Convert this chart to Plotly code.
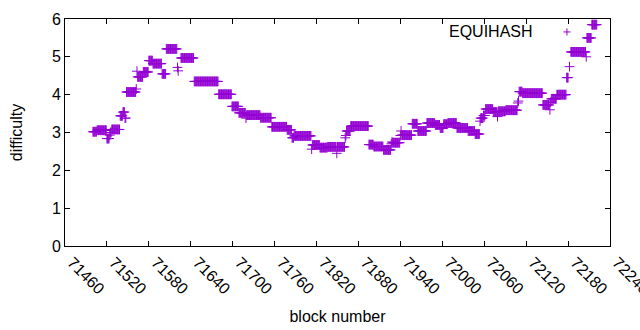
import plotly.graph_objects as go

# Difficulty plateaus: (first block, last block, difficulty)
seg_first = [71500, 71506, 71520, 71524, 71525, 71527, 71539, 71543, 71546, 71548,
             71562, 71563, 71564, 71572, 71580, 71586, 71599, 71605, 71621, 71622,
             71626, 71645, 71680, 71699, 71709, 71719, 71720, 71740, 71756, 71778,
             71785, 71788, 71813, 71814, 71825, 71836, 71849, 71850, 71861, 71862,
             71863, 71869, 71895, 71902, 71916, 71927, 71928, 71929, 71940, 71941,
             71942, 71957, 71965, 71978, 71990, 71997, 72002, 72008, 72021, 72037,
             72047, 72054, 72055, 72059, 72062, 72073, 72079, 72080, 72091, 72108,
             72109, 72110, 72115, 72144, 72154, 72155, 72156, 72164, 72178, 72182,
             72184, 72206, 72207, 72214]
seg_last = [71505, 71519, 71523, 71524, 71526, 71538, 71542, 71545, 71547, 71561,
            71562, 71563, 71571, 71579, 71585, 71598, 71604, 71620, 71621, 71622,
            71644, 71679, 71698, 71708, 71718, 71719, 71739, 71755, 71777, 71784,
            71787, 71812, 71813, 71824, 71835, 71848, 71849, 71860, 71861, 71862,
            71868, 71894, 71901, 71915, 71926, 71927, 71928, 71939, 71940, 71941,
            71956, 71964, 71977, 71989, 71996, 72001, 72007, 72020, 72036, 72046,
            72053, 72054, 72058, 72061, 72072, 72078, 72079, 72090, 72107, 72108,
            72109, 72114, 72143, 72153, 72154, 72155, 72163, 72177, 72180, 72182,
            72205, 72206, 72213, 72221]
seg_value = [3.02, 3.06, 2.84, 2.93, 3.00, 3.08, 3.44, 3.54, 3.38, 4.07,
             4.15, 4.62, 4.47, 4.60, 4.90, 4.82, 4.55, 5.21, 4.72, 4.63,
             4.97, 4.35, 4.01, 3.69, 3.52, 3.38, 3.46, 3.39, 3.15, 3.07,
             2.86, 2.91, 2.56, 2.67, 2.60, 2.62, 2.45, 2.62, 2.86, 2.92,
             3.04, 3.17, 2.68, 2.63, 2.54, 2.70, 2.75, 2.73, 2.92, 3.04,
             2.93, 3.23, 3.04, 3.25, 3.20, 3.12, 3.22, 3.25, 3.12, 3.04,
             2.96, 3.30, 3.38, 3.45, 3.62, 3.54, 3.42, 3.56, 3.59, 3.78,
             3.83, 4.08, 4.04, 3.73, 3.60, 3.80, 3.89, 4.00, 4.45, 4.74,
             5.13, 5.00, 5.50, 5.85]

x_range = [71460, 72240]
x_dtick = 60
y_range = [0, 6]
series_name = "EQUIHASH"

blocks, difficulty = [], []
for a, b, v in zip(seg_first, seg_last, seg_value):
    for n in range(a, b + 1):
        blocks.append(n)
        difficulty.append(v)

COLOR = "#9400D3"
FONT = "Liberation Sans"
FS = 16

fig = go.Figure()
fig.add_trace(go.Scatter(
    x=blocks, y=difficulty, mode="markers", name=series_name, showlegend=False,
    hoverinfo="skip",
    marker=dict(symbol="cross-thin", size=7, line=dict(color=COLOR, width=1)),
))

axis_common = dict(showline=True, linecolor="black", linewidth=1, mirror="ticks",
                   ticks="inside", ticklen=5, tickcolor="black", showgrid=False,
                   zeroline=False, automargin=False, ticklabeloverflow="allow",
                   tickfont=dict(family=FONT, size=FS, color="black"))

fig.update_xaxes(range=x_range, dtick=x_dtick, tick0=x_range[0], tickangle=45,
                 tickformat="d", ticklabelshift=7,
                 title=dict(text="block number", font=dict(family=FONT, size=FS, color="black"), standoff=14),
                 **axis_common)
fig.update_yaxes(range=y_range, dtick=1,
                 title=dict(text="difficulty", font=dict(family=FONT, size=FS, color="black"), standoff=25),
                 **axis_common)

# key (gnuplot style: text then sample to the right)
kx, ky = 0.921, 0.943
fig.add_annotation(x=0.862, y=ky, xref="paper", yref="paper", text=series_name,
                   showarrow=False, xanchor="right", yanchor="middle",
                   font=dict(family=FONT, size=FS, color="black"))
fig.add_shape(type="line", xref="paper", yref="paper", x0=kx - 0.0065, x1=kx + 0.0065, y0=ky, y1=ky,
              line=dict(color=COLOR, width=1))
fig.add_shape(type="line", xref="paper", yref="paper", x0=kx, x1=kx, y0=ky - 0.0155, y1=ky + 0.0155,
              line=dict(color=COLOR, width=1))

fig.update_layout(width=640, height=330, margin=dict(l=65, r=30, t=19, b=84),
                  plot_bgcolor="white", paper_bgcolor="white",
                  font=dict(family=FONT, size=FS, color="black"))

fig.write_html("out.html", config={"displayModeBar": False},
               post_script="document.body.style.margin='0';document.body.style.overflow='hidden';")
